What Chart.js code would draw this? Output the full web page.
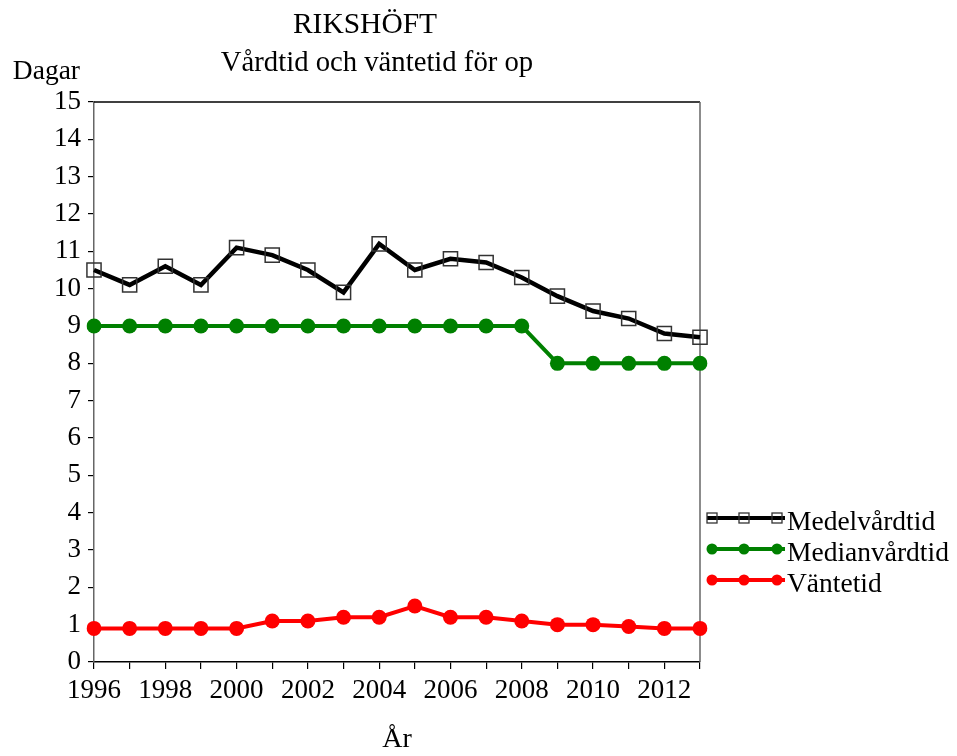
<!DOCTYPE html>
<html>
<head>
<meta charset="utf-8">
<script src="https://cdn.jsdelivr.net/npm/chart.js@4"></script>
<style>
html,body{margin:0;padding:0;background:#fff;}
#wrap{width:957px;height:756px;position:relative;}
</style>
</head>
<body>
<div id="wrap"><canvas id="c" width="957" height="756"></canvas></div>
<script>
const years = ['1996','1997','1998','1999','2000','2001','2002','2003','2004','2005','2006','2007','2008','2009','2010','2011','2012','2013'];
const medelvardtid = [10.5,10.1,10.6,10.1,11.1,10.9,10.5,9.9,11.2,10.5,10.8,10.7,10.3,9.8,9.4,9.2,8.8,8.7];
const medianvardtid = [9,9,9,9,9,9,9,9,9,9,9,9,9,8,8,8,8,8];
const vantetid = [0.9,0.9,0.9,0.9,0.9,1.1,1.1,1.2,1.2,1.5,1.2,1.2,1.1,1.0,1.0,0.95,0.9,0.9];
const yTicks = [0,1,2,3,4,5,6,7,8,9,10,11,12,13,14,15];
const titleText = 'RIKSHÖFT';
const subtitleText = 'Vårdtid och väntetid för op';
const yTitle = 'Dagar';
const xTitle = 'År';

const FONT = '"Liberation Serif", "Times New Roman", serif';

const framePlugin = {
  id: 'frame',
  beforeDatasetsDraw(chart) {
    const {ctx, chartArea: a} = chart;
    ctx.save();
    ctx.lineWidth = 1.5;
    ctx.strokeStyle = '#000';
    ctx.beginPath();
    ctx.moveTo(a.left, a.top); ctx.lineTo(a.right, a.top);
    ctx.stroke();
    ctx.strokeStyle = '#666';
    ctx.beginPath();
    ctx.moveTo(a.right, a.top); ctx.lineTo(a.right, a.bottom);
    ctx.stroke();
    ctx.restore();
  }
};

const textPlugin = {
  id: 'texts',
  afterDraw(chart) {
    const ctx = chart.ctx;
    ctx.save();
    ctx.fillStyle = '#000';
    ctx.textBaseline = 'alphabetic';
    ctx.textAlign = 'center';
    ctx.font = '29.5px ' + FONT;
    ctx.fillText(titleText, 365, 33);
    ctx.font = '28.7px ' + FONT;
    ctx.fillText(subtitleText, 377, 71);
    ctx.font = '27.5px ' + FONT;
    ctx.textAlign = 'right';
    ctx.fillText(yTitle, 80, 79);

    // legend
    const rows = [518, 549, 580];
    chart.data.datasets.forEach((ds, i) => {
      const y = rows[i];
      ctx.strokeStyle = ds.borderColor;
      ctx.lineWidth = 4;
      ctx.beginPath();
      ctx.moveTo(707, y); ctx.lineTo(785, y);
      ctx.stroke();
      [712, 744, 777].forEach(x => {
        if (ds.pointStyle === 'rect') {
          ctx.lineWidth = 1.3;
          ctx.strokeStyle = '#333';
          ctx.strokeRect(x - 5, y - 5, 10, 10);
        } else {
          ctx.fillStyle = ds.pointBackgroundColor;
          ctx.beginPath();
          ctx.arc(x, y, 5.5, 0, Math.PI * 2);
          ctx.fill();
        }
      });
      ctx.fillStyle = '#000';
      ctx.textAlign = 'left';
      ctx.font = '27.5px ' + FONT;
      ctx.fillText(ds.label, 787, y + 12);
    });
    ctx.restore();
  }
};

new Chart(document.getElementById('c'), {
  type: 'line',
  data: {
    labels: years,
    datasets: [
      {
        label: 'Medelvårdtid',
        data: medelvardtid,
        borderColor: '#000',
        borderWidth: 4.5,
        pointStyle: 'rect',
        pointRadius: 10,
        pointHoverRadius: 10,
        pointBorderWidth: 1.5,
        pointBorderColor: '#333',
        pointBackgroundColor: 'rgba(0,0,0,0)',
        tension: 0
      },
      {
        label: 'Medianvårdtid',
        data: medianvardtid,
        borderColor: '#008000',
        borderWidth: 4,
        pointStyle: 'circle',
        pointRadius: 7.5,
        pointHoverRadius: 7.5,
        pointBorderWidth: 0,
        pointBackgroundColor: '#008000',
        tension: 0
      },
      {
        label: 'Väntetid',
        data: vantetid,
        borderColor: '#ff0000',
        borderWidth: 4,
        pointStyle: 'circle',
        pointRadius: 7.5,
        pointHoverRadius: 7.5,
        pointBorderWidth: 0,
        pointBackgroundColor: '#ff0000',
        tension: 0
      }
    ]
  },
  options: {
    responsive: false,
    animation: false,
    layout: { padding: { top: 102, right: 257, left: 0, bottom: 0 } },
    plugins: {
      legend: { display: false },
      tooltip: { enabled: false },
      title: { display: false }
    },
    scales: {
      x: {
        type: 'category',
        offset: false,
        afterFit(scale) { scale.height = 94; },
        grid: { drawOnChartArea: false, drawTicks: true, tickLength: 7, color: '#000', lineWidth: 1.2 },
        border: { display: true, color: '#000', width: 1.5 },
        ticks: {
          autoSkip: false, maxRotation: 0, minRotation: 0, padding: 6,
          color: '#000',
          font: { family: FONT, size: 27 },
          callback: function(v, i) { const l = years[i]; return (parseInt(l) % 2 === 0) ? l : ''; }
        },
        title: { display: true, text: xTitle, color: '#000', font: { family: FONT, size: 28 }, padding: { top: 0, bottom: 0 } }
      },
      y: {
        min: 0, max: 15,
        afterFit(scale) { scale.width = 94; },
        afterBuildTicks(scale) { scale.ticks = yTicks.map(v => ({ value: v })); },
        grid: { drawOnChartArea: false, drawTicks: true, tickLength: 6, color: '#000', lineWidth: 1.2 },
        border: { display: true, color: '#666', width: 1.5 },
        ticks: { padding: 7, color: '#000', font: { family: FONT, size: 27 } }
      }
    }
  },
  plugins: [framePlugin, textPlugin]
});
</script>
</body>
</html>
